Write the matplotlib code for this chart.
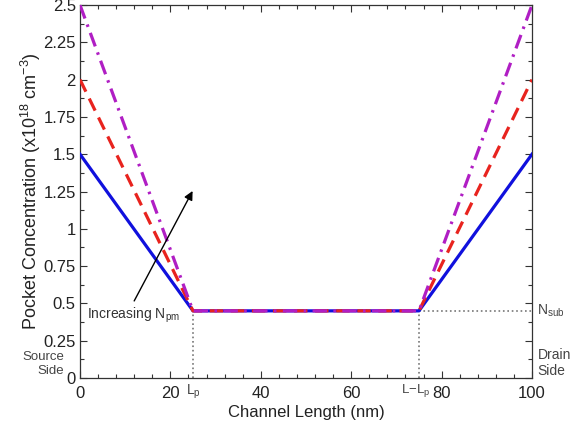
import matplotlib
matplotlib.use("Agg")
import matplotlib.pyplot as plt
from matplotlib.ticker import MultipleLocator

plt.rcParams['font.family'] = ['Liberation Sans', 'DejaVu Sans']
plt.rcParams['mathtext.fontset'] = 'custom'
plt.rcParams['mathtext.rm'] = 'Liberation Sans'
plt.rcParams['mathtext.it'] = 'Liberation Sans'

# Channel geometry (nm) and doping levels (x10^18 cm^-3)
channel_length = 100
pocket_length = 25
n_sub = 0.45
n_pm = [1.5, 2.0, 2.5]
line_colors = ['#1010dd', '#e8231e', '#b01ec4']
line_dashes = [None, (4.2, 2.4), (4.5, 2.0, 0.8, 2.0)]

x_ticks = [0, 20, 40, 60, 80, 100]
y_ticks = [0, 0.25, 0.5, 0.75, 1, 1.25, 1.5, 1.75, 2, 2.25, 2.5]
y_tick_labels = ['0', '0.25', '0.5', '0.75', '1', '1.25', '1.5', '1.75', '2', '2.25', '2.5']

fig = plt.figure(figsize=(5.78, 4.29), dpi=100)
ax = fig.add_axes([0.1384, 0.1189, 0.782, 0.8694])

x_prof = [0, pocket_length, channel_length - pocket_length, channel_length]
for peak, c, dashes in zip(n_pm, line_colors, line_dashes):
    line, = ax.plot(x_prof, [peak, n_sub, n_sub, peak], color=c, lw=2.3,
                    zorder=3)
    if dashes is not None:
        line.set_dashes(dashes)

# Guides marking pocket edges and substrate level
dot_kw = dict(color='#777777', linestyle=':', lw=1.2, zorder=1)
ax.plot([pocket_length, pocket_length], [0, n_sub], **dot_kw)
ax.plot([channel_length - pocket_length] * 2, [0, n_sub], **dot_kw)
ax.plot([channel_length - pocket_length, channel_length], [n_sub, n_sub], **dot_kw)

ax.set_xlim(0, channel_length)
ax.set_ylim(0, 2.5)
ax.set_xticks(x_ticks)
ax.set_yticks(y_ticks)
ax.set_yticklabels(y_tick_labels)
ax.xaxis.set_minor_locator(MultipleLocator(4))
ax.yaxis.set_minor_locator(MultipleLocator(0.125))
ax.tick_params(which='both', direction='in', top=True, right=True,
               color='#333333', labelsize=12, labelcolor='#222222')
ax.tick_params(which='major', length=5, width=0.8, pad=6)
ax.tick_params(which='minor', length=3, width=0.8)
ax.tick_params(axis='y', pad=3)
for s in ax.spines.values():
    s.set_color('#333333')
    s.set_linewidth(0.9)

ax.set_xlabel('Channel Length (nm)', fontsize=12, color='#222222', labelpad=3)
ax.set_ylabel('Pocket Concentration (x10$^{18}$ cm$^{-3}$)', fontsize=13,
              color='#222222', labelpad=0)

# Arrow showing the direction of increasing peak doping
ax.annotate('', xy=(25.2, 1.27), xytext=(11.7, 0.50),
            arrowprops=dict(arrowstyle='-|>', color='black', lw=1.0,
                            mutation_scale=13))
ax.text(1.5, 0.42, 'Increasing N$_{\\mathrm{pm}}$', fontsize=10, color='#333333',
        va='center', ha='left')

small = dict(fontsize=10, color='#444444', clip_on=False)
ax.text(pocket_length, -0.03, 'L$_{\\mathrm{p}}$', ha='center', va='top', **small)
ax.text(channel_length - pocket_length - 0.8, -0.025, 'L\u2212L$_{\\mathrm{p}}$',
        ha='center', va='top', fontsize=9.5, color='#444444', clip_on=False)
ax.text(101.2, n_sub, 'N$_{\\mathrm{sub}}$', ha='left', va='center', **small)
ax.text(-3.5, 0.095, 'Source\nSide', ha='right', va='center', linespacing=1.2,
        fontsize=9.5, color='#444444', clip_on=False)
ax.text(101.2, 0.1, 'Drain\nSide', ha='left', va='center', linespacing=1.25,
        **small)

fig.savefig('out.png', dpi=100)
